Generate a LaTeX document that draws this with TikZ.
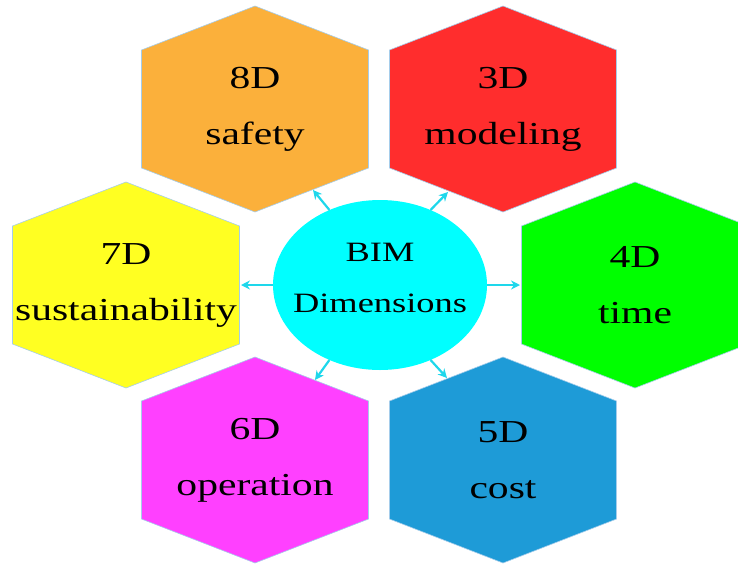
\documentclass[tikz,border=0pt]{standalone}
\usepackage{fontspec}
\setmainfont[FakeStretch=1.3]{Liberation Serif}
\usetikzlibrary{arrows.meta,shapes.geometric}
\definecolor{safetyorange}{RGB}{251,176,59}
\definecolor{modelingred}{RGB}{255,45,45}
\definecolor{timegreen}{RGB}{0,255,0}
\definecolor{costblue}{RGB}{30,155,215}
\definecolor{operationpink}{RGB}{255,64,255}
\definecolor{sustainyellow}{RGB}{255,255,34}
\definecolor{bimcyan}{RGB}{0,255,255}
\definecolor{arrowcyan}{RGB}{30,215,235}
\definecolor{hexedge}{RGB}{165,205,235}
\tikzset{
  hexagon/.style={draw=hexedge, line width=0.6pt},
  hexlabel/.style={align=center, font=\fontsize{32}{56}\selectfont},
  bimcircle/.style={ellipse, fill=bimcyan, minimum width=214pt, minimum height=170pt, inner sep=0pt},
  bimlabel/.style={align=center, font=\fontsize{28}{51}\selectfont},
  bimarrow/.style={draw=arrowcyan, line width=2.2pt, -{Stealth[length=9pt,width=9pt]}}
}
\begin{document}
\begin{tikzpicture}[x=1pt,y=-1pt]
\useasboundingbox (0,0) rectangle (738,565);
\clip (0,0) rectangle (738,565);
% hexagons
\foreach \cx/\cy/\col/\hid/\dimlabel/\dimword in {
    255/109/safetyorange/safety/8D/safety,
    503/109/modelingred/modeling/3D/modeling,
    635/285/timegreen/time/4D/time,
    503/460/costblue/cost/5D/cost,
    255/460/operationpink/operation/6D/operation,
    126/285/sustainyellow/sustain/7D/sustainability}{
  \filldraw[hexagon, fill=\col] ([shift={(\cx,\cy)}]0,-103) -- ++(113.5,44) -- ++(0,118) -- ++(-113.5,44) -- ++(-113.5,-44) -- ++(0,-118) -- cycle;
  \node[hexlabel] (\hid) at (\cx,\cy) {\dimlabel\\\dimword};
}
% centre
\node[bimcircle] (bim) at (380,285) {};
\node[bimlabel] (bimtext) at (380,278) {BIM\\Dimensions};
% arrow ends
\coordinate (safetyin) at (313,190);
\coordinate (modelingin) at (448,192);
\coordinate (timein) at (520,285);
\coordinate (costin) at (447,378);
\coordinate (operationin) at (315,380);
\coordinate (sustainin) at (241,285);
\foreach \ang/\tip in {124/safetyin, 56/modelingin, 0/timein, 304/costin, 236/operationin, 180/sustainin}
  \draw[bimarrow] (bim.\ang) -- (\tip);
\end{tikzpicture}
\end{document}
